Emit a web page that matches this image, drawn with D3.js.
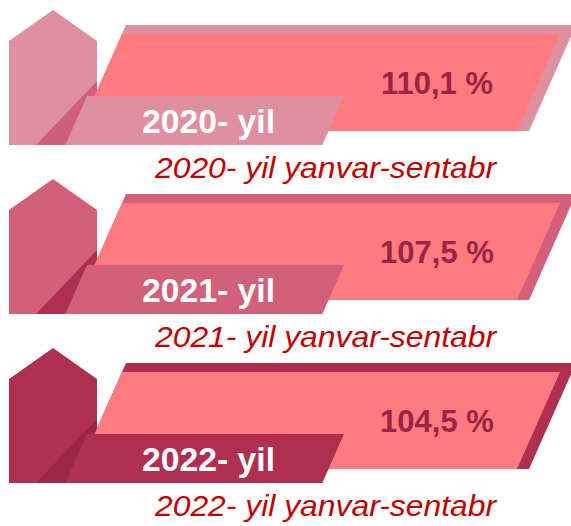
<!DOCTYPE html>
<html>
<head>
<meta charset="utf-8">
<script src="https://cdn.jsdelivr.net/npm/d3@7"></script>
<style>
  body { margin: 0; background: #fff; }
  text { font-family: "Liberation Sans", Arial, sans-serif; }
</style>
</head>
<body>
<div id="chart"></div>
<script>
// values
var years = ["2020- yil", "2021- yil", "2022- yil"];
var growth = [110.1, 107.5, 104.5];
var periods = ["2020- yil yanvar-sentabr", "2021- yil yanvar-sentabr", "2022- yil yanvar-sentabr"];
var shades = ["#DE8FA0", "#D26079", "#AE2F4E"];
var shadows = ["#D0607A", "#AE2F4E", "#982843"];

var width = 571, height = 526;
var slope = 0.443; // horizontal shift per px of height on the slanted edges

var svg = d3.select("#chart").append("svg")
    .attr("width", width)
    .attr("height", height);

var yScale = d3.scaleBand().domain(years).range([10, 10 + 169 * years.length]);
var fmt = function(v) { return d3.format(".1f")(v).replace(".", ",") + " %"; };

var rows = years.map(function(y, i) {
    return {year: y, value: growth[i], period: periods[i], shade: shades[i], shadow: shadows[i]};
});

var line = d3.line();

function slant(xTop, yTop, y) { return xTop - (y - yTop) * slope; }

var blocks = svg.selectAll(".block")
    .data(rows)
    .enter().append("g")
    .attr("class", "block")
    .attr("transform", function(d) { return "translate(0," + yScale(d.year) + ")"; });

// house shape
blocks.append("path")
    .attr("d", function() { return line([[9, 31], [53, 0], [97, 31], [97, 135], [9, 135]]) + "Z"; })
    .attr("fill", function(d) { return d.shade; });

// shadow falling on the house
blocks.append("path")
    .attr("d", function() { return line([[97, 71], [36, 135], [97, 135]]) + "Z"; })
    .attr("fill", function(d) { return d.shadow; });

// back strip of the bar
blocks.append("path")
    .attr("d", function() {
        return line([[slant(122, 24, 15), 15], [slant(572, 24, 15), 15],
                     [slant(572, 24, 121), 121], [slant(122, 24, 121), 121]]) + "Z";
    })
    .attr("fill", function(d) { return d.shade; });

// front bar
blocks.append("path")
    .attr("d", function() {
        return line([[122, 24], [560, 24], [slant(560, 24, 121), 121], [slant(122, 24, 121), 121]]) + "Z";
    })
    .attr("fill", "#FF7B80");

// year tab
blocks.append("path")
    .attr("d", function() {
        return line([[87, 86], [344, 86], [slant(344, 86, 135), 135], [slant(87, 86, 135), 135]]) + "Z";
    })
    .attr("fill", function(d) { return d.shade; });

blocks.append("text")
    .attr("x", 437)
    .attr("y", 84)
    .attr("text-anchor", "middle")
    .attr("font-size", 31)
    .attr("font-weight", "bold")
    .attr("fill", "#9B2444")
    .text(function(d) { return fmt(d.value); });

blocks.append("text")
    .attr("x", 142)
    .attr("y", 123)
    .attr("font-size", 33)
    .attr("font-weight", "bold")
    .attr("fill", "#fff")
    .attr("textLength", 133)
    .attr("lengthAdjust", "spacingAndGlyphs")
    .text(function(d) { return d.year; });

blocks.append("text")
    .attr("x", 155)
    .attr("y", 168)
    .attr("font-size", 29)
    .attr("font-style", "italic")
    .attr("fill", "#C00000")
    .attr("textLength", 341)
    .attr("lengthAdjust", "spacingAndGlyphs")
    .text(function(d) { return d.period; });
</script>
</body>
</html>
